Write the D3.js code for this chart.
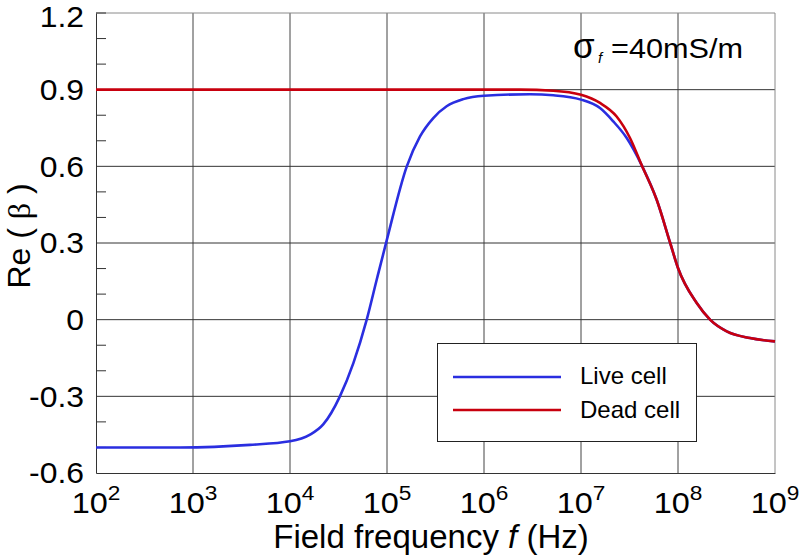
<!DOCTYPE html>
<html>
<head>
<meta charset="utf-8">
<script src="https://cdn.jsdelivr.net/npm/d3@7"></script>
<style>
  html, body { margin: 0; padding: 0; background: #fff; }
  svg { display: block; }
  text { font-family: "Liberation Sans", Arial, sans-serif; fill: #000; }
</style>
</head>
<body>
<svg id="chart" width="800" height="559"></svg>
<script>
// ---- data ----
const liveFreq = [1e2, 7.35e2, 3.87e3, 1e4, 1.61e4, 2.20e4, 3.27e4, 4.50e4, 6.18e4, 7.83e4, 9.93e4,
  1.60e5, 2.19e5, 3.00e5, 4.12e5, 6.12e5, 1.0e6, 2.98e6, 5.19e6, 1e7, 1.57e7, 2.15e7, 2.96e7,
  4.23e7, 6.03e7, 8.28e7, 1e8, 1.56e8, 2.14e8, 3.18e8, 5.52e8, 1e9];
const liveRe = [-0.50, -0.50, -0.49, -0.476, -0.45, -0.41, -0.30, -0.17, 0.0, 0.156, 0.31,
  0.60, 0.717, 0.789, 0.835, 0.863, 0.876, 0.882, 0.878, 0.861, 0.828, 0.776, 0.711,
  0.604, 0.469, 0.302, 0.202, 0.065, 0.0, -0.046, -0.072, -0.085];
const deadFreq = [1e2, 1e6, 2.35e6, 5.19e6, 1e7, 1.57e7, 2.33e7, 3.2e7, 4.23e7, 6.03e7, 8.28e7,
  1e8, 1.56e8, 2.14e8, 3.18e8, 5.52e8, 1e9];
const deadRe = [0.9, 0.9, 0.9, 0.896, 0.880, 0.848, 0.795, 0.711, 0.604, 0.469, 0.302,
  0.202, 0.065, 0.0, -0.046, -0.072, -0.085];
const xTickExps = [2, 3, 4, 5, 6, 7, 8, 9];
const yTicks = [-0.6, -0.3, 0, 0.3, 0.6, 0.9, 1.2];
const yTickLabels = ["-0.6", "-0.3", "0", "0.3", "0.6", "0.9", "1.2"];
const yMinorTicks = [-0.5, -0.4, -0.2, -0.1, 0.1, 0.2, 0.4, 0.5, 0.7, 0.8, 1.0, 1.1];
const seriesNames = ["Live cell", "Dead cell"];
const seriesColors = ["#2a2ee0", "#c8000e"];

// ---- layout ----
const svg = d3.select("#chart");
const L = 96, R = 775, T = 13, B = 473;
const x = d3.scaleLog().domain([1e2, 1e9]).range([L, R]);
const y = d3.scaleLinear().domain([-0.6, 1.2]).range([B, T]);

// gridlines
const grid = svg.append("g");
grid.selectAll("line.vx").data(xTickExps.slice(1, -1)).join("line")
  .attr("x1", d => x(Math.pow(10, d))).attr("x2", d => x(Math.pow(10, d)))
  .attr("y1", T).attr("y2", B).attr("stroke", "#444").attr("stroke-width", 1);
grid.selectAll("line.hy").data(yTicks.slice(1, -1)).join("line")
  .attr("x1", L).attr("x2", R).attr("y1", d => y(d)).attr("y2", d => y(d))
  .attr("stroke", "#333").attr("stroke-width", 1);

// frame: top/right lighter
svg.append("line").attr("x1", L).attr("x2", R).attr("y1", T).attr("y2", T).attr("stroke", "#8a8a8a");
svg.append("line").attr("x1", R).attr("x2", R).attr("y1", T).attr("y2", B).attr("stroke", "#8a8a8a");

// left axis with minor ticks
const yAxis = d3.axisLeft(y).tickValues(yTicks).tickSize(0).tickFormat("");
svg.append("g").attr("transform", `translate(${L},0)`).call(yAxis)
  .call(g => g.select(".domain").attr("stroke", "#333"));
svg.append("g").selectAll("line").data(yMinorTicks.concat([1.2])).join("line")
  .attr("x1", L).attr("x2", L + 10).attr("y1", d => y(d)).attr("y2", d => y(d))
  .attr("stroke", "#333");

// bottom axis
const xAxis = d3.axisBottom(x).tickValues(xTickExps.map(e => Math.pow(10, e))).tickSize(0).tickFormat("");
svg.append("g").attr("transform", `translate(0,${B})`).call(xAxis)
  .call(g => g.select(".domain").attr("stroke", "#333"));

// y tick labels (top one kept inside the canvas)
svg.append("g").selectAll("text").data(yTicks).join("text")
  .attr("transform", d => `translate(84,${Math.max(y(d) + 10.4, 27)}) scale(1.1,1)`)
  .attr("text-anchor", "end").attr("font-size", 29)
  .text((d, i) => yTickLabels[i]);

// x tick labels
const xl = svg.append("g").selectAll("text").data(xTickExps).join("text")
  .attr("transform", d => `translate(${x(Math.pow(10, d))},513) scale(1.08,1)`)
  .attr("text-anchor", "middle").attr("font-size", 30);
xl.append("tspan").text("10");
xl.append("tspan").attr("dy", -13).attr("font-size", 21).text(d => d);

// axis titles
const xt = svg.append("text").attr("x", 431).attr("y", 548).attr("text-anchor", "middle").attr("font-size", 33);
xt.append("tspan").text("Field frequency ");
xt.append("tspan").attr("font-style", "italic").text("f");
xt.append("tspan").text(" (Hz)");

const yt = svg.append("text").attr("transform", "translate(30,236) rotate(-90)")
  .attr("text-anchor", "middle").attr("font-size", 32);
yt.append("tspan").text("Re ( ");
yt.append("tspan").attr("font-family", "Liberation Serif, serif").text("\u03B2");
yt.append("tspan").text(" )");

// annotation
svg.append("text").attr("x", 573).attr("y", 58)
  .attr("font-family", "Liberation Serif, serif").attr("font-size", 35).text("\u03C3");
svg.append("text").attr("x", 598).attr("y", 63)
  .attr("font-family", "Liberation Serif, serif").attr("font-style", "italic")
  .attr("font-size", 15).text("f");
svg.append("text").attr("x", 611).attr("y", 58).attr("font-size", 27)
  .attr("textLength", 132).attr("lengthAdjust", "spacingAndGlyphs").text("=40mS/m");

// curves
const line = d3.line().x(d => x(d[0])).y(d => y(d[1])).curve(d3.curveMonotoneX);
const liveData = liveFreq.map((f, i) => [f, liveRe[i]]);
const deadData = deadFreq.map((f, i) => [f, deadRe[i]]);
svg.append("path").datum(liveData).attr("d", line).attr("fill", "none")
  .attr("stroke", seriesColors[0]).attr("stroke-width", 2.6);
svg.append("path").datum(deadData).attr("d", line).attr("fill", "none")
  .attr("stroke", seriesColors[1]).attr("stroke-width", 2.6);

// legend
const lg = svg.append("g");
lg.append("rect").attr("x", 437.5).attr("y", 343.5).attr("width", 259).attr("height", 98)
  .attr("fill", "#fff").attr("stroke", "#222").attr("stroke-width", 1);
const rows = [377, 410], baselines = [384, 418];
seriesNames.forEach((n, i) => {
  lg.append("line").attr("x1", 453).attr("x2", 561).attr("y1", rows[i]).attr("y2", rows[i])
    .attr("stroke", seriesColors[i]).attr("stroke-width", 2.6);
  lg.append("text").attr("x", 580).attr("y", baselines[i]).attr("font-size", 24).text(n);
});
</script>
</body>
</html>
